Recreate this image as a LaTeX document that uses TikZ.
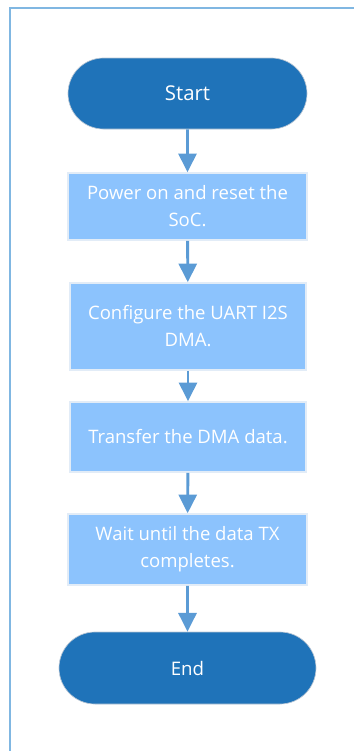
\documentclass[tikz,border=0pt]{standalone}
\usepackage{fontspec}
\setmainfont{Open Sans}
\usetikzlibrary{arrows.meta,shapes.misc}
\definecolor{darkfill}{HTML}{1F73B9}
\definecolor{lightfill}{HTML}{8CC3FD}
\definecolor{arrowcol}{HTML}{5B9BD5}
\definecolor{framecol}{HTML}{80B7E2}
\definecolor{boxline}{HTML}{E2ECF7}
\definecolor{termline}{HTML}{B9C6D4}
\begin{document}
\begin{tikzpicture}[x=0.75pt,y=-0.75pt,
  term/.style={rounded rectangle, fill=darkfill, draw=termline, line width=0.5pt, text=white, inner sep=0pt},
  stepbox/.style={rectangle, fill=lightfill, draw=boxline, line width=1.2pt, text=white, inner sep=0pt, align=center, font=\fontsize{13.9pt}{20.3pt}\selectfont},
  conn/.style={draw=arrowcol, line width=2.2pt, -{Triangle[width=13.5pt,length=14pt,fill=arrowcol]}},
  frameline/.style={draw=framecol, line width=1.6pt}]
\useasboundingbox (0,0) rectangle (354,751);
\coordinate (fb) at (10,751);
\coordinate (fc) at (10,8.3);
\coordinate (fr) at (354,8.3);
\draw[frameline] (fb) -- (fc) -- (fr);
\node[term, font=\fontsize{15.3pt}{18pt}\selectfont, minimum width=179.25pt, minimum height=53.25pt] (start) at (187.5,93.5) {Start};
\node[stepbox, minimum width=179.25pt, minimum height=50.25pt] (s1) at (187.5,206.5) {Power on and reset the\\SoC.};
\node[stepbox, minimum width=177pt, minimum height=65.25pt] (s2) at (188,326.5) {Configure the UART I2S\\DMA.};
\node[stepbox, minimum width=177pt, minimum height=52.5pt] (s3) at (188,437) {Transfer the DMA data.};
\node[stepbox, minimum width=179.25pt, minimum height=53.25pt] (s4) at (187.5,549.5) {Wait until the data TX\\completes.};
\node[term, font=\fontsize{14pt}{18pt}\selectfont, minimum width=192.75pt, minimum height=54pt] (end) at (187.5,668) {End};
\draw[conn] (start) -- (s1);
\draw[conn] (s1) -- (s2);
\draw[conn] (s2) -- (s3);
\draw[conn] (s3) -- (s4);
\draw[conn] (s4) -- (end);
\end{tikzpicture}
\end{document}
